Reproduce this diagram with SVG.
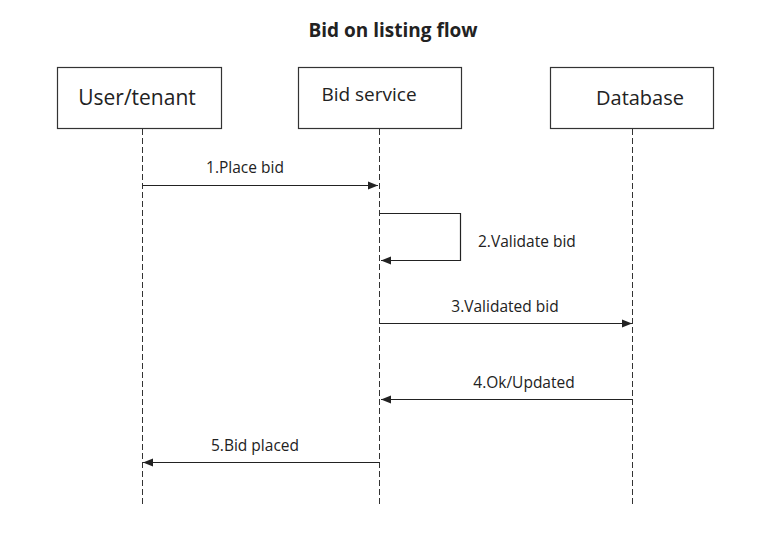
<svg xmlns="http://www.w3.org/2000/svg" width="761" height="533" viewBox="0 0 761 533">
<style>
.box{fill:#fff;stroke:#333;stroke-width:1.2}
.life{stroke:#333;stroke-width:1;stroke-dasharray:6,3;fill:none}
.msg{stroke:#222;stroke-width:1.2;fill:none}
.t{font-family:"Open Sans","Liberation Sans",sans-serif;fill:#222}
.lbl{font-family:"Open Sans","Liberation Sans",sans-serif;fill:#222;font-size:15.5px;text-anchor:middle}
</style>
<defs>
<marker id="ah" viewBox="0 0 10 10" refX="10" refY="5" markerWidth="10" markerHeight="10" markerUnits="userSpaceOnUse" orient="auto">
<path d="M0,1 L10,5 L0,9 z" fill="#222"/>
</marker>
</defs>
<rect width="761" height="533" fill="#fff"/>
<text x="393" y="37" class="t" font-size="19" font-weight="bold" text-anchor="middle">Bid on listing flow</text>
<g id="user">
<rect class="box" x="57.5" y="67.5" width="164" height="61"/>
<text class="t" x="137" y="105" font-size="21" text-anchor="middle">User/tenant</text>
<line class="life" x1="142.5" y1="129" x2="142.5" y2="507"/>
</g>
<g id="bidservice">
<rect class="box" x="298.5" y="67.5" width="163" height="61"/>
<text class="t" x="369" y="101" font-size="19" text-anchor="middle">Bid service</text>
<line class="life" x1="379.5" y1="129" x2="379.5" y2="507"/>
</g>
<g id="database">
<rect class="box" x="550.5" y="67.5" width="163" height="61"/>
<text class="t" x="640" y="105" font-size="20" text-anchor="middle">Database</text>
<line class="life" x1="632.5" y1="129" x2="632.5" y2="507"/>
</g>
<g id="connectors">
<line class="msg" x1="142.5" y1="185.5" x2="378" y2="185.5" marker-end="url(#ah)"/>
<text class="lbl" x="245" y="173">1.Place bid</text>
<polyline class="msg" points="379.5,213.5 460.5,213.5 460.5,260.5 381,260.5" marker-end="url(#ah)"/>
<text class="lbl" x="478" y="247" style="text-anchor:start">2.Validate bid</text>
<line class="msg" x1="379.5" y1="323.5" x2="632" y2="323.5" marker-end="url(#ah)"/>
<text class="lbl" x="505" y="312">3.Validated bid</text>
<line class="msg" x1="632.5" y1="399.5" x2="381" y2="399.5" marker-end="url(#ah)"/>
<text class="lbl" x="524" y="388">4.Ok/Updated</text>
<line class="msg" x1="379.5" y1="462.5" x2="143" y2="462.5" marker-end="url(#ah)"/>
<text class="lbl" x="255" y="451">5.Bid placed</text>
</g>
</svg>
